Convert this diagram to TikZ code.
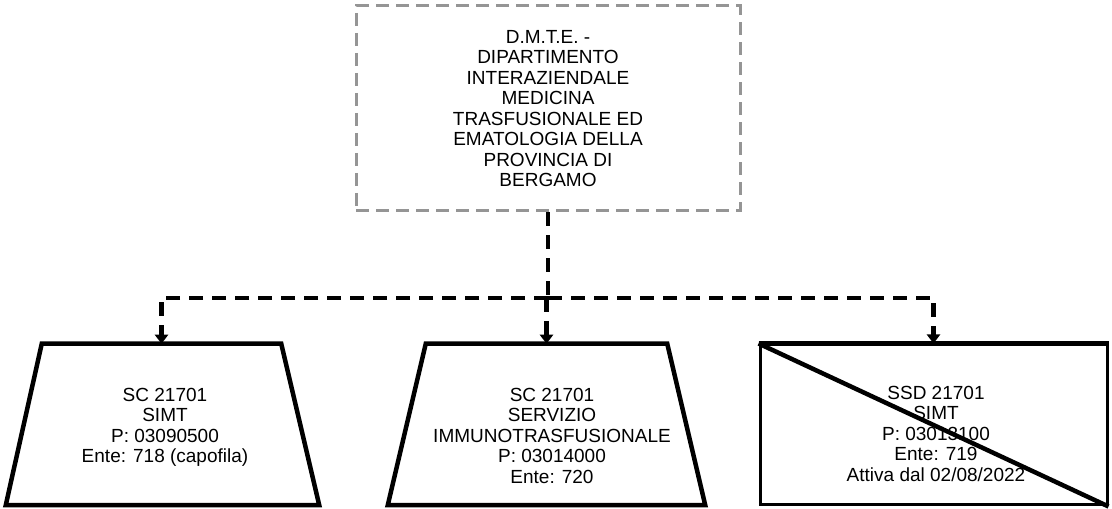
\documentclass[tikz,border=0pt]{standalone}
\usepackage{fontspec}
\setmainfont{Liberation Sans}
\usetikzlibrary{arrows.meta,calc}
\definecolor{dgray}{HTML}{959595}
\begin{document}
\begin{tikzpicture}[x=1pt,y=1pt,
  every node/.style={font=\fontsize{19}{20.5}\selectfont},
  dmte/.style={draw=dgray, dash pattern=on 13pt off 7pt, line width=3pt,
    minimum width=384pt, minimum height=205pt, align=center, inner sep=0pt},
  trapbase/.style={minimum height=157pt, inner sep=0pt, outer sep=2.25pt},
  trapline/.style={line width=4.5pt, line join=miter},
  rbox/.style={draw, line width=3pt, minimum width=347pt, minimum height=160pt, inner sep=0pt},
  txt/.style={align=center, inner sep=0pt, anchor=north},
  conn/.style={line width=4.5pt, dash pattern=on 14pt off 9pt},
  arr/.style={-{Triangle[width=13pt,length=9pt]}},
]
\useasboundingbox (0,0) rectangle (1112,509);

\node[dmte] (top) at (548,400.5) {D.M.T.E. -\\DIPARTIMENTO\\INTERAZIENDALE\\MEDICINA\\TRASFUSIONALE ED\\EMATOLOGIA DELLA\\PROVINCIA DI\\BERGAMO};

\node[trapbase, minimum width=235pt] (b1) at (161.5,84.5) {};
\node[trapbase, minimum width=237pt] (b2) at (546.5,84.5) {};
\node[rbox] (b3) at (933.5,84) {};

\draw[trapline] (b1.north west) -- (b1.north east) -- ($(b1.south east)+(38,0)$)
  -- ($(b1.south west)+(-36,0)$) -- cycle;
\draw[trapline] (b2.north west) -- (b2.north east) -- ($(b2.south east)+(38,0)$)
  -- ($(b2.south west)+(-38,0)$) -- cycle;

\node[txt] (t1) at (165,121) {SC 21701\\SIMT\\P: 03090500\\Ente: 718 (capofila)};
\node[txt] (t2) at (552,121) {SC 21701\\SERVIZIO\\IMMUNOTRASFUSIONALE\\P: 03014000\\Ente: 720};
\node[txt] (t3) at (936,123) {SSD 21701\\SIMT\\P: 03013100\\Ente: 719\\Attiva dal 02/08/2022};

\draw[line width=4.5pt] (b3.north west) -- (b3.south east);
\draw[line width=5pt] (b3.north west) -- (b3.north east);

\coordinate (j) at (548,211);
\draw[conn] (top.south) -- (j);
\draw[conn,arr] (j) -| (b1.north);
\draw[conn,arr] (j) -| (b3.north);
\draw[conn,arr] (j -| b2.north) -- (b2.north);
\end{tikzpicture}
\end{document}
